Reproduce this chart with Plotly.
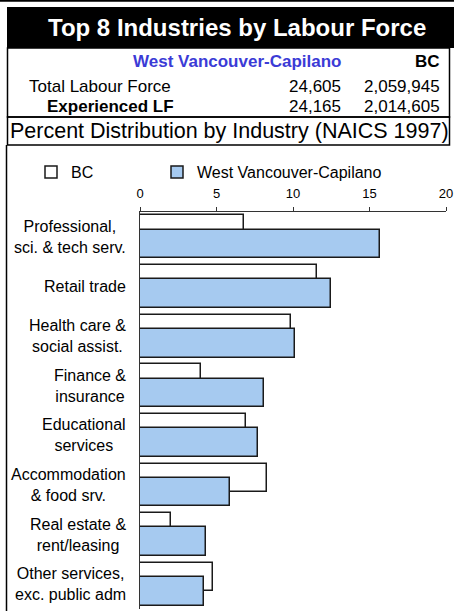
import plotly.graph_objects as go

# data (% of experienced labour force)
industries = ["Professional,<br>sci. & tech serv.", "Retail trade",
              "Health care &<br>social assist.", "Finance &<br>insurance",
              "Educational<br>services", "Accommodation<br>& food srv.",
              "Real estate &<br>rent/leasing", "Other services,<br>exc. public adm"]
bc_pct = [6.8, 11.6, 9.9, 4.0, 6.9, 8.3, 2.0, 4.8]
wv_pct = [15.7, 12.5, 10.1, 8.1, 7.7, 5.9, 4.3, 4.2]

region = "West Vancouver-Capilano"
header_cols = [region, "BC"]
header_rows = ["Total Labour Force", "Experienced LF"]
region_vals = ["24,605", "24,165"]
bc_vals = ["2,059,945", "2,014,605"]

W, H = 454, 611
L, R, T, B = 140, 8, 212, 2
PW, PH = W - L - R, H - T - B
FONT = "Arial, Liberation Sans, sans-serif"
INK = "#1a1a1a"; BLUE_FILL = "#a6caf0"; BLUE_TXT = "#3b3bd6"


def px(x):
    return (x - L) / PW


def py(y):
    return (H - B - y) / PH


fig = go.Figure()
bar_w = 0.575
# BC sits behind, half covered by the region bar (Excel "overlap 50")
fig.add_trace(go.Bar(y=industries, x=bc_pct, orientation="h", name="BC",
                     width=bar_w, offset=-0.431, marker_color="white",
                     marker_line=dict(color=INK, width=1.5), hoverinfo="skip",
                     legend="legend"))
fig.add_trace(go.Bar(y=industries, x=wv_pct, orientation="h", name=region,
                     width=bar_w, offset=-0.143, marker_color=BLUE_FILL,
                     marker_line=dict(color=INK, width=1.5), hoverinfo="skip",
                     legend="legend2"))

# category labels: centred multi-line blocks, like the Excel original
for cat in industries:
    fig.add_annotation(x=0, xref="paper", y=cat, yref="y", text=cat,
                       xanchor="right", xshift=-12, align="center",
                       showarrow=False, font=dict(size=16, color="black"))

shapes = [
    dict(type="line", x0=px(0), x1=px(W), y0=py(0.8), y1=py(0.8), line=dict(color="black", width=2)),
    dict(type="rect", x0=px(7), x1=px(W), y0=py(7), y1=py(48), fillcolor="black", line_width=0),
    dict(type="rect", x0=px(7.5), x1=px(449.5), y0=py(48), y1=py(117), line=dict(color="black", width=1.5)),
    dict(type="rect", x0=px(7.5), x1=px(449.5), y0=py(117), y1=py(145), line=dict(color="black", width=1.5)),
    dict(type="line", x0=px(6.5), x1=px(6.5), y0=py(145), y1=py(H), line=dict(color="black", width=1.5)),
]
for s in shapes:
    s.update(xref="paper", yref="paper", layer="above" if s["type"] == "line" else "below")
    fig.add_shape(**s)

texts = [
    ("Top 8 Industries by Labour Force", 237, 28, "center", 24, "white", True),
    (header_cols[0], 343, 62, "right", 17, BLUE_TXT, True),
    (header_cols[1], 442, 62, "right", 17, "black", True),
    (header_rows[0], 27, 86, "left", 17, "black", False),
    (region_vals[0], 343, 86, "right", 17, "black", False),
    (bc_vals[0], 442, 86, "right", 17, "black", False),
    (header_rows[1], 45, 107, "left", 17, "black", True),
    (region_vals[1], 343, 107, "right", 17, "black", False),
    (bc_vals[1], 442, 107, "right", 17, "black", False),
    ("Percent Distribution by Industry (NAICS 1997)", 229, 131, "center", 21.5, "black", False),
]
for txt, x, y, anchor, size, color, bold in texts:
    fig.add_annotation(x=px(x), y=py(y), xref="paper", yref="paper",
                       text=f"<b>{txt}</b>" if bold else txt, showarrow=False,
                       xanchor=anchor, yanchor="middle",
                       font=dict(size=size, color=color))

leg = dict(orientation="h", xanchor="left", yanchor="middle", y=py(172),
           font=dict(size=16), itemwidth=30, bgcolor="rgba(0,0,0,0)")

fig.update_layout(
    width=W, height=H, margin=dict(l=L, r=R, t=T, b=B),
    paper_bgcolor="white", plot_bgcolor="white",
    font=dict(family=FONT, color="black"),
    barmode="overlay", bargap=0,
    showlegend=True,
    legend=dict(leg, x=px(31)),
    legend2=dict(leg, x=px(157)),
    xaxis=dict(side="top", range=[0, 20], dtick=5, showgrid=False, zeroline=False,
               showline=True, linecolor="#333", linewidth=1, ticks="outside",
               ticklen=4, tickcolor="#333", tickfont=dict(size=13, color="black"),
               ticklabelstandoff=4, fixedrange=True),
    yaxis=dict(categoryorder="array", categoryarray=industries, autorange="reversed",
               showticklabels=False, showgrid=False, zeroline=False, ticks="",
               showline=True, linecolor="#333", linewidth=1, fixedrange=True),
)

fig.write_html("out.html", config={"displayModeBar": False},
               post_script="document.body.style.margin='0';")
